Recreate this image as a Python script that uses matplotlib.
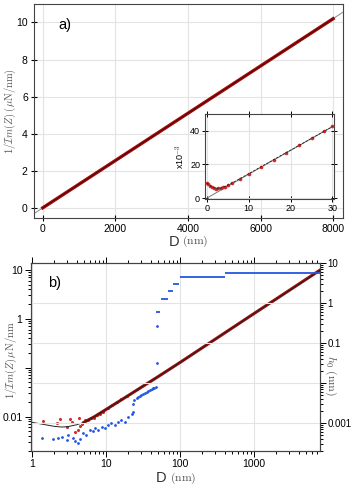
import matplotlib
matplotlib.use("Agg")
import matplotlib.pyplot as plt

plt.rcParams['font.family'] = ['Liberation Sans', 'DejaVu Sans']
plt.rcParams['mathtext.fontset'] = 'cm'
plt.rcParams['font.size'] = 7

########################################################################################################################
# panel a) : linear scale

a_fit_D = [-240, 8270]
a_fit_val = [-0.31, 10.55]
a_data_D = [0, 2000, 4000, 6000, 8000]
a_data_val = [0.0, 2.55, 5.1, 7.65, 10.2]

# inset (values in units of 1e-3)
ins_fit_D = [0, 30]
ins_fit_val = [0, 42.5]
ins_model_D = [0, 0.5, 1, 1.5, 2, 2.5, 3, 4, 5, 7, 10, 15, 20, 25, 30]
ins_model_val = [9.0, 8.0, 7.1, 6.4, 5.9, 5.6, 5.7, 6.5, 7.6, 10.3, 14.5, 21.5, 28.5, 35.5, 42.5]
ins_red_D = [0, 0.4, 0.8, 1.3, 1.8, 2.3, 2.8, 3.3, 3.8, 4.4, 5, 6, 8, 10, 13, 16, 19, 22, 25, 28, 30]
ins_red_val = [8.8, 8.3, 7.4, 6.6, 6.0, 5.4, 5.8, 6.0, 6.4, 6.9, 7.6, 8.9, 11.6, 14.4, 18.7, 22.9, 27.1, 31.4, 35.6, 39.8, 42.6]

########################################################################################################################
# panel b) : log scale

b_model_D = [0.9, 1, 1.5, 2, 2.5, 3, 4, 5, 7, 10, 20, 50, 100, 1000, 8000]
b_model_val = [0.0078, 0.0076, 0.0068, 0.0063, 0.0061, 0.0062, 0.0068, 0.0076, 0.0100, 0.0140, 0.027, 0.065, 0.128, 1.28, 10.0]

b_redline_D = [5, 7, 10, 20, 50, 100, 1000, 7800]
b_redline_val = [0.0076, 0.0100, 0.0140, 0.027, 0.065, 0.128, 1.28, 9.9]

b_red_D = [1.4, 2.14, 2.37, 3.0, 3.2, 3.4, 3.78, 4.1, 4.24, 4.4, 4.7, 5.16, 5.6, 6.2, 6.8, 7.5, 8.2, 9.0, 10.5, 12, 14, 16, 19]
b_red_val = [0.0082, 0.0073, 0.0090, 0.0060, 0.0088, 0.0076, 0.0048, 0.0053, 0.0092, 0.0065, 0.0070, 0.0083, 0.0086, 0.0094, 0.0092, 0.0108, 0.0114, 0.0122, 0.0150, 0.0170, 0.0200, 0.0225, 0.0260]

# h0 (right axis)
b_blue_D = [1.34, 1.92, 2.25, 2.5, 2.92, 3.07, 3.6, 3.78, 4.18, 4.4, 4.9, 5.4, 6.0, 6.6, 7.0, 7.7, 8.7, 9.5,
            10.6, 11.8, 13.1, 14.5, 16, 17.7, 19.8, 22, 22.8,
            23.1, 24, 25.8, 27, 28.4, 30, 31.6, 33, 35.2, 37, 38.9, 41, 43.2, 45, 47, 48, 48.3]
b_blue_h0 = [4.2e-4, 3.9e-4, 4.2e-4, 4.4e-4, 3.8e-4, 4.9e-4, 4.2e-4, 3.4e-4, 3.1e-4, 3.9e-4, 5.4e-4, 5.0e-4, 6.6e-4, 6.1e-4, 7.3e-4, 6.6e-4, 8.0e-4, 7.3e-4,
             8.7e-4, 9.7e-4, 8.7e-4, 1.05e-3, 1.15e-3, 1.05e-3, 1.4e-3, 1.7e-3, 1.85e-3,
             3.0e-3, 3.6e-3, 4.1e-3, 4.4e-3, 4.7e-3, 5.0e-3, 5.3e-3, 5.6e-3, 6.0e-3, 6.2e-3, 6.5e-3, 6.9e-3, 7.2e-3, 7.5e-3, 7.9e-3, 0.0316, 0.26]

b_step_h0 = [0.575, 1.22, 1.96, 2.93, 4.5, 5.6]
b_step_from = [47, 54.7, 68, 81, 100, 400]
b_step_to = [52.8, 68, 79, 98, 400, 7800]

########################################################################################################################

RED = '#d42a2a'
DARKRED = '#a00c0c'
BLUE = '#2456e0'
LABEL = '#555555'

fig = plt.figure(figsize=(3.51, 4.86), dpi=100)

ax = fig.add_axes([0.097, 0.551, 0.880, 0.441])
ax.plot(a_fit_D, a_fit_val, color='#888888', lw=0.7, zorder=2)
ax.plot(a_data_D, a_data_val, color=DARKRED, lw=2.4, zorder=3)
ax.plot(a_data_D, a_data_val, color='#3a0000', lw=0.5, zorder=4)
ax.set_xlim(-240, 8270)
ax.set_ylim(-0.56, 11.0)
ax.set_xticks([0, 2000, 4000, 6000, 8000])
ax.set_yticks([0, 2, 4, 6, 8, 10])
ax.grid(color='#e3e3e3', lw=0.8)
ax.set_axisbelow(True)
ax.tick_params(direction='inout', length=5, width=0.8, pad=2, labelsize=7.5)
for s in ax.spines.values():
    s.set_color('#444444')
ax.set_ylabel(r'$1/\mathcal{I}m(Z)\;(\mu\mathrm{N/nm})$', fontsize=7.5, color=LABEL, va='center')
ax.yaxis.set_label_coords(-0.078, 0.5)
ax.text(0.47, -0.11, 'D', transform=ax.transAxes, fontsize=10.5, ha='right', va='center', color='#333333')
ax.text(0.48, -0.11, r'$(\mathrm{nm})$', transform=ax.transAxes, fontsize=8.5, ha='left', va='center', color=LABEL)
ax.text(0.08, 0.9, 'a)', transform=ax.transAxes, fontsize=10.5, va='center')

ins = fig.add_axes([0.584, 0.5905, 0.368, 0.175])
ins.plot(ins_fit_D, ins_fit_val, color='#777777', lw=0.7, zorder=2)
ins.plot(ins_red_D, ins_red_val, color=RED, lw=0, marker='o', ms=1.6, zorder=3)
ins.plot(ins_model_D, ins_model_val, color='#222222', lw=0.6, ls=(0, (3, 1.5)), zorder=4)
ins.set_xlim(-0.4, 30.4)
ins.set_ylim(-0.5, 50)
ins.set_xticks([0, 10, 20, 30])
ins.set_yticks([0, 20, 40])
ins.grid(color='#e3e3e3', lw=0.8)
ins.set_axisbelow(True)
ins.tick_params(direction='inout', length=4, width=0.7, labelsize=6.5, pad=1.5, top=True, right=True)
for s in ins.spines.values():
    s.set_color('#444444')
ins.set_ylabel(r'x10$^{-3}$', fontsize=6.5, labelpad=2)

########################################################################################################################

bx = fig.add_axes([0.088, 0.0726, 0.824, 0.3869])
bx.set_xscale('log')
bx.set_yscale('log')
bx.set_xlim(0.96, 7800)
bx.set_ylim(0.002, 14)
bx.plot(b_red_D, b_red_val, color=RED, lw=0, marker='o', ms=1.2, zorder=3)
bx.plot(b_redline_D, b_redline_val, color=DARKRED, lw=2.2, zorder=3)
bx.plot(b_model_D, b_model_val, color='#222222', lw=0.7, zorder=4)
bx.set_yticks([10, 1, 0.1, 0.01])
bx.set_yticklabels(['10', '1', '', '0.01'])
bx.set_xticks([1, 10, 100, 1000])
bx.set_xticklabels(['1', '10', '100', '1000'])
bx.tick_params(which='both', direction='out', width=0.7, top=True, pad=2, labelsize=7.5)
bx.tick_params(which='major', length=4)
bx.tick_params(which='minor', length=2.5)
bx.grid(axis='x', which='major', color='#e3e3e3', lw=0.8)
bx.set_axisbelow(True)
bx.set_ylabel(r'$1/\mathcal{I}m(Z)\,\mu\mathrm{N/nm}$', fontsize=7.5, color=LABEL, va='center')
bx.yaxis.set_label_coords(-0.069, 0.48)
bx.text(0.47, -0.145, 'D', transform=bx.transAxes, fontsize=10.5, ha='right', va='center', color='#333333')
bx.text(0.48, -0.145, r'$(\mathrm{nm})$', transform=bx.transAxes, fontsize=8.5, ha='left', va='center', color=LABEL)
bx.text(0.06, 0.89, 'b)', transform=bx.transAxes, fontsize=10.5, va='center')

hx = bx.twinx()
hx.set_yscale('log')
hx.set_ylim(2e-4, 10)
hx.plot(b_blue_D, b_blue_h0, color=BLUE, lw=0, marker='o', ms=1.0, zorder=3)
hx.hlines(b_step_h0, b_step_from, b_step_to, color=BLUE, lw=1.3, zorder=3)
hx.set_yticks([10, 1, 0.1, 0.01, 0.001])
hx.set_yticklabels(['10', '1', '0.1', '', '0.001'])
hx.tick_params(which='both', direction='out', width=0.7, pad=1.5, labelsize=7)
hx.tick_params(which='major', length=4)
hx.tick_params(which='minor', length=2.5)
hx.grid(axis='y', which='major', color='#e3e3e3', lw=0.8)
hx.set_axisbelow(True)
hx.set_ylabel(r'$h_0\;(\mathrm{nm})$', fontsize=8.5, color=LABEL, rotation=270, va='center')
hx.yaxis.set_label_coords(1.035, 0.40)
for a in (bx, hx):
    for s in a.spines.values():
        s.set_color('#444444')

fig.savefig('out.png', dpi=100)
